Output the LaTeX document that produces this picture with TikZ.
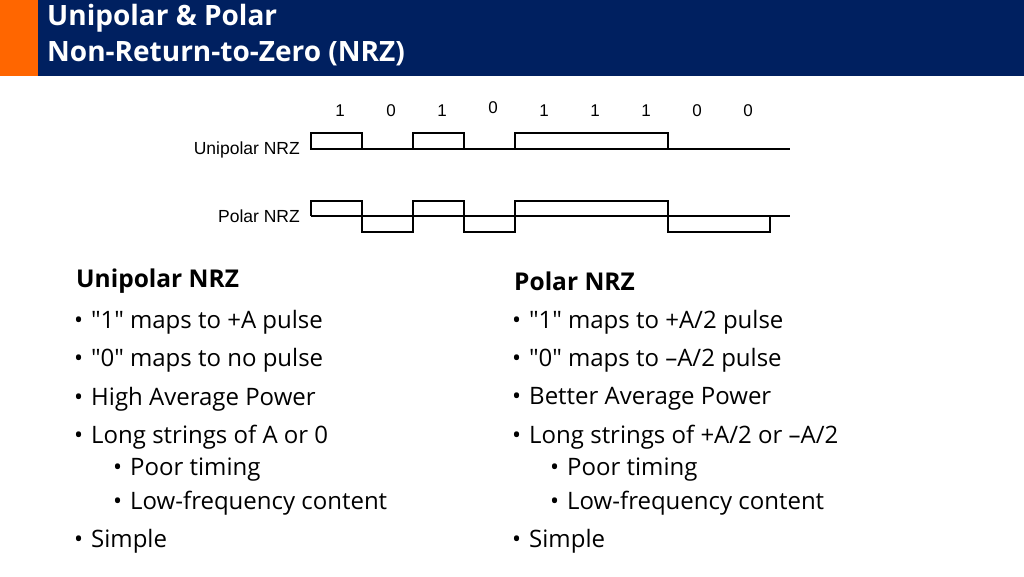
\documentclass[tikz,border=0pt]{standalone}
\usepackage{fontspec}
\setmainfont{Open Sans}[BoldFont={Open Sans Bold}]
\newfontfamily\arialfont{Liberation Sans}
\usetikzlibrary{positioning}
\definecolor{navy}{RGB}{0,32,96}
\definecolor{orng}{RGB}{255,102,0}
\tikzset{
  bit/.style={font=\arialfont\fontsize{17}{17}\selectfont, inner sep=0pt},
  sig/.style={font=\arialfont\fontsize{17.5}{17.5}\selectfont, anchor=east, inner sep=0pt},
  head/.style={font=\bfseries\fontsize{24.5}{24.5}\selectfont, anchor=west, inner sep=0pt},
  item/.style={font=\fontsize{24}{24}\selectfont, anchor=west, inner sep=0pt},
  wave/.style={line width=1.6pt},
}
\newcommand{\bul}{\textbullet\hspace{8pt}}
\begin{document}
\begin{tikzpicture}[x=1pt,y=-1pt]
\useasboundingbox (0,0) rectangle (1024,576);
\fill[navy] (0,0) rectangle (1024,76);
\fill[orng] (0,0) rectangle (38,76);
\node[anchor=west, text=white, font=\bfseries\fontsize{28}{36}\selectfont, align=left, inner sep=0pt]
  (title) at (47,35) {Unipolar \& Polar\\Non-Return-to-Zero (NRZ)};

% bit labels
\foreach \b/\v [count=\i from 0] in {1/1,2/0,3/1,4/0,5/1,6/1,7/1,8/0,9/0}{
  \node[bit] (b\b) at (340+51*\i, \ifnum\b=4 108\else 111\fi) {\v};
}
\node[sig] (lu) at (300,150) {Unipolar NRZ};
\node[sig] (lp) at (300,216) {Polar NRZ};

% unipolar
\draw[wave] (311,149) -- (790,149);
\draw[wave] (311,149) rectangle (362,133);
\draw[wave] (413,149) rectangle (464,133);
\draw[wave] (515,149) rectangle (668,133);
% polar
\draw[wave] (311,216) -- (790,216);
\draw[wave] (311,216) -- (311,201) -- (362,201) -- (362,232) -- (413,232) -- (413,201)
  -- (464,201) -- (464,232) -- (515,232) -- (515,201) -- (668,201) -- (668,232)
  -- (770,232) -- (770,216);

% left column
\node[head] (hl) at (76,281) {Unipolar NRZ};
\node[item] (l1) at (74,322) {\bul ″1″ maps to +A pulse};
\node[item] (l2) at (74,360) {\bul ″0″ maps to no pulse};
\node[item] (l3) at (74,399) {\bul High Average Power};
\node[item] (l4) at (74,437) {\bul Long strings of A or 0};
\node[item] (l5) at (113,470) {\bul Poor timing};
\node[item] (l6) at (113,503) {\bul Low-frequency content};
\node[item] (l7) at (74,541) {\bul Simple};
% right column
\node[head] (hr) at (514,281) {Polar NRZ};
\node[item] (r1) at (512,322) {\bul ″1″ maps to +A/2 pulse};
\node[item] (r2) at (512,360) {\bul ″0″ maps to –A/2 pulse};
\node[item] (r3) at (512,399) {\bul Better Average Power};
\node[item] (r4) at (512,437) {\bul Long strings of +A/2 or –A/2};
\node[item] (r5) at (550,470) {\bul Poor timing};
\node[item] (r6) at (550,503) {\bul Low-frequency content};
\node[item] (r7) at (512,541) {\bul Simple};
\end{tikzpicture}
\end{document}
